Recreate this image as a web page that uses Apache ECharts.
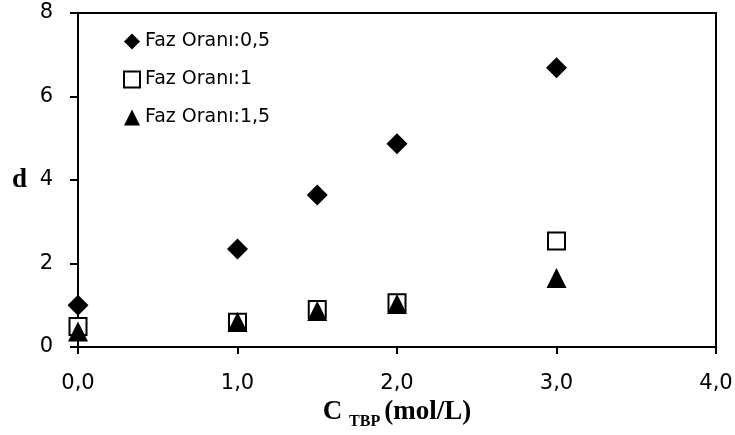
<!DOCTYPE html>
<html>
<head>
<meta charset="utf-8">
<script src="https://cdn.jsdelivr.net/npm/echarts@6/dist/echarts.min.js"></script>
<style>
  html, body { margin: 0; padding: 0; background: #fff; }
  #chart { width: 735px; height: 435px; }
</style>
</head>
<body>
<div id="chart"></div>
<script>
// TBP concentration (mol/L)
var cTbp = [0, 1, 1.5, 2, 3];
// d values per phase ratio
var faz05 = [1.0, 2.35, 3.64, 4.87, 6.69];
var faz1 = [0.49, 0.59, 0.9, 1.06, 2.54];
var faz15 = [0.37, 0.6, 0.86, 1.03, 1.65];
var seriesNames = ['Faz Oranı:0,5', 'Faz Oranı:1', 'Faz Oranı:1,5'];

function pairs(ys) {
  return cTbp.map(function (x, i) { return [x, ys[i]]; });
}

var chart = echarts.init(document.getElementById('chart'), null, { renderer: 'canvas' });

var axisFont = { fontFamily: 'DejaVu Sans', fontSize: 21, color: '#000' };
var serif = 'Liberation Serif';

var option = {
  backgroundColor: '#fff',
  animation: false,
  grid: {
    left: 78, right: 19, top: 13, bottom: 88,
    outerBoundsMode: 'none',
    show: true,
    borderColor: '#000',
    borderWidth: 2
  },
  legend: {
    orient: 'vertical',
    left: 118,
    top: 27,
    itemWidth: 16,
    itemHeight: 16,
    itemGap: 19,
    textStyle: { fontFamily: 'DejaVu Sans', fontSize: 19, color: '#000', padding: [0, 0, 0, 0] },
    data: seriesNames
  },
  xAxis: {
    type: 'value',
    min: 0, max: 4, interval: 1,
    name: '{a|C }{b|TBP }{a|(mol/L)}',
    nameLocation: 'middle',
    nameGap: 50,
    nameTextStyle: {
      rich: {
        a: { fontFamily: serif, fontWeight: 'bold', fontSize: 27, color: '#000', lineHeight: 31, verticalAlign: 'top' },
        b: { fontFamily: serif, fontWeight: 'bold', fontSize: 16, color: '#000', lineHeight: 16, verticalAlign: 'bottom' }
      }
    },
    axisLine: { lineStyle: { color: '#000', width: 2 } },
    axisTick: { length: 7, lineStyle: { color: '#000', width: 2 } },
    splitLine: { show: false },
    axisLabel: Object.assign({ margin: 26, formatter: function (v) { return v.toFixed(1).replace('.', ','); } }, axisFont)
  },
  yAxis: {
    type: 'value',
    min: 0, max: 8, interval: 2,
    name: 'd',
    nameLocation: 'middle',
    nameRotate: 0,
    nameGap: 51,
    nameTextStyle: { fontFamily: serif, fontWeight: 'bold', fontSize: 27, color: '#000' },
    axisLine: { show: true, lineStyle: { color: '#000', width: 2 } },
    axisTick: { show: true, length: 8, lineStyle: { color: '#000', width: 2 } },
    splitLine: { show: false },
    axisLabel: Object.assign({ margin: 25, lineHeight: 24, padding: [8, 0, 0, 0] }, axisFont)
  },
  series: [
    {
      name: seriesNames[0],
      type: 'scatter',
      symbol: 'diamond',
      symbolSize: 21,
      itemStyle: { color: '#000', opacity: 1 },
      data: pairs(faz05)
    },
    {
      name: seriesNames[1],
      type: 'scatter',
      symbol: 'rect',
      symbolSize: 17,
      itemStyle: { color: '#fff', borderColor: '#000', borderWidth: 2, opacity: 1 },
      data: pairs(faz1)
    },
    {
      name: seriesNames[2],
      type: 'scatter',
      symbol: 'triangle',
      symbolSize: 20,
      itemStyle: { color: '#000', opacity: 1 },
      data: pairs(faz15)
    }
  ]
};

chart.setOption(option);
</script>
</body>
</html>
